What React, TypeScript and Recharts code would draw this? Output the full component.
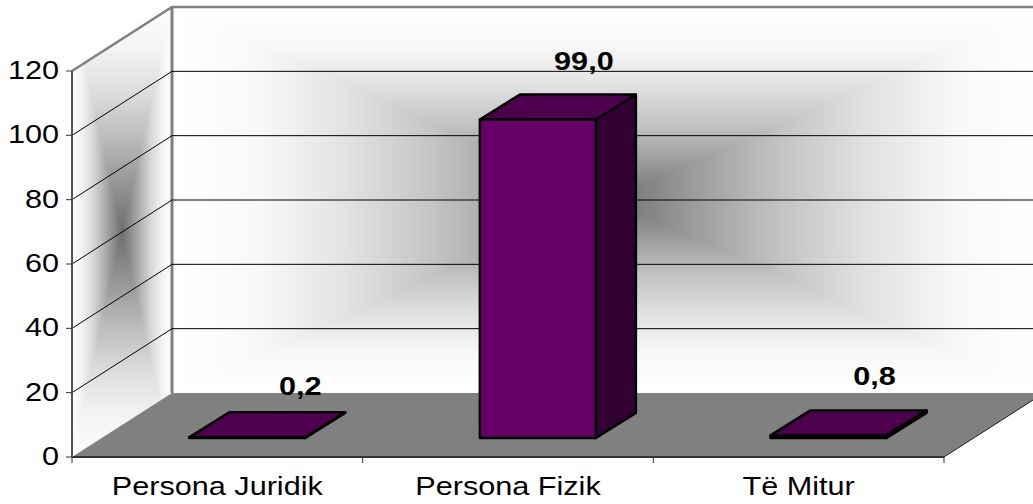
import { BarChart, Bar, XAxis, YAxis, CartesianGrid, LabelList } from 'recharts';

const categories = ['Persona Juridik', 'Persona Fizik', 'Të Mitur'];
const values = [0.2, 99.0, 0.8];
const yTicks = [0, 20, 40, 60, 80, 100, 120];
const gridValues = [20, 40, 60, 80, 100];

const data = categories.map((name, i) => ({ name, value: values[i] }));

const WIDTH = 1033;
const HEIGHT = 504;
const LEFT = 72;
const RIGHT = 944;
const TOP = 71;
const BOTTOM = 457;
// 3D projection: how far the back wall sits from the front plane
const DX = 100;
const DY = 64;
// bars stand part way into the floor
const BAR_DX = 30;
const BAR_DY = 19;
const BAR_DEPTH_X = 40;
const BAR_DEPTH_Y = 25;
const FONT_SIZE = 25;
const STRETCH = 1.225;
const FONT = '"Liberation Sans", Arial, sans-serif';

type Stop = [number, string];

const backStops: Stop[] = [
  [0, '#ffffff'],
  [0.2, '#f8f8f8'],
  [0.4, '#e2e2e2'],
  [0.6, '#c4c4c4'],
  [0.8, '#9c9c9c'],
  [1, '#707070'],
];

const sideStops: Stop[] = [
  [0, '#ffffff'],
  [0.2, '#f2f2f2'],
  [0.4, '#dadada'],
  [0.6, '#b8b8b8'],
  [0.8, '#929292'],
  [1, '#6e6e6e'],
];

// rectangular "path" gradient, built out of four triangles
function BoxGradient({ id, x, y, w, h, stops }: { id: string; x: number; y: number; w: number; h: number; stops: Stop[] }) {
  const cx = x + w / 2;
  const cy = y + h / 2;
  const g = (name: string, x1: number, y1: number, x2: number, y2: number) => (
    <linearGradient id={id + name} gradientUnits="userSpaceOnUse" x1={x1} y1={y1} x2={x2} y2={y2}>
      {stops.map(([o, c]) => <stop key={o} offset={o} stopColor={c} />)}
    </linearGradient>
  );
  return (
    <g>
      <defs>
        {g('t', 0, y, 0, cy)}
        {g('b', 0, y + h, 0, cy)}
        {g('l', x, 0, cx, 0)}
        {g('r', x + w, 0, cx, 0)}
      </defs>
      <polygon points={`${x},${y} ${x + w},${y} ${cx},${cy}`} fill={`url(#${id}t)`} stroke={`url(#${id}t)`} strokeWidth={1} />
      <polygon points={`${x},${y + h} ${x + w},${y + h} ${cx},${cy}`} fill={`url(#${id}b)`} stroke={`url(#${id}b)`} strokeWidth={1} />
      <polygon points={`${x},${y} ${x},${y + h} ${cx},${cy}`} fill={`url(#${id}l)`} stroke={`url(#${id}l)`} strokeWidth={1} />
      <polygon points={`${x + w},${y} ${x + w},${y + h} ${cx},${cy}`} fill={`url(#${id}r)`} stroke={`url(#${id}r)`} strokeWidth={1} />
    </g>
  );
}

// sits behind the transparent chart, so the grid lines stay on top of it
function Walls() {
  const backL = LEFT + DX;
  const backR = RIGHT + DX;
  const backT = TOP - DY;
  const backB = BOTTOM - DY;
  return (
    <svg width={WIDTH} height={HEIGHT} style={{ position: 'absolute', left: 0, top: 0 }}>
      <defs>
        <clipPath id="sideClip">
          <polygon points={`${LEFT},${TOP} ${backL},${backT} ${backL},${backB} ${LEFT},${BOTTOM}`} />
        </clipPath>
      </defs>
      <BoxGradient id="back" x={backL} y={backT} w={backR - backL} h={backB - backT} stops={backStops} />
      {/* the side wall gradient fills its bounding box, it is not skewed with the wall */}
      <g clipPath="url(#sideClip)">
        <BoxGradient id="side" x={LEFT} y={backT} w={DX} h={BOTTOM - backT} stops={sideStops} />
      </g>
      <polygon points={`${LEFT},${BOTTOM} ${backL},${backB} ${backR},${backB} ${RIGHT},${BOTTOM}`} fill="#808080" />
      <line x1={RIGHT} y1={BOTTOM} x2={backR} y2={backB} stroke="#222" strokeWidth={1} />
      <path d={`M${LEFT},${TOP} L${backL},${backT} L${backR},${backT}`} fill="none" stroke="#808080" strokeWidth={2.5} />
      <line x1={backL} y1={backT} x2={backL} y2={backB} stroke="#808080" strokeWidth={3} />
    </svg>
  );
}

function StretchedText({ x, y, anchor, bold, children }: { x: number; y: number; anchor: 'start' | 'middle' | 'end'; bold?: boolean; children: React.ReactNode }) {
  return (
    <text
      transform={`translate(${x},${y}) scale(${STRETCH},1)`}
      textAnchor={anchor}
      fontFamily={FONT}
      fontSize={FONT_SIZE}
      fontWeight={bold ? 700 : 400}
      fill="#000"
    >
      {children}
    </text>
  );
}

function XTick({ x, payload }: any) {
  const band = (RIGHT - LEFT) / categories.length;
  return (
    <g>
      <line x1={x + band / 2} y1={BOTTOM} x2={x + band / 2} y2={BOTTOM + 6} stroke="#333" />
      {payload.index === 0 && <line x1={x - band / 2} y1={BOTTOM} x2={x - band / 2} y2={BOTTOM + 6} stroke="#333" />}
      <StretchedText x={x} y={BOTTOM + 38} anchor="middle">{payload.value}</StretchedText>
    </g>
  );
}

function YTick({ y, payload }: any) {
  return <StretchedText x={59} y={y + 8} anchor="end">{payload.value}</StretchedText>;
}

function GridLine({ x1, y1, x2 }: any) {
  return (
    <path
      d={`M${x1},${y1} L${x1 + DX},${y1 - DY} L${x2 + DX},${y1 - DY}`}
      fill="none"
      stroke="#000"
      strokeWidth={1}
    />
  );
}

function Bar3D({ x, y, width, height }: any) {
  const l = x + BAR_DX;
  const r = l + width;
  const t = y - BAR_DY;
  const b = t + height;
  const dx = BAR_DEPTH_X;
  const dy = BAR_DEPTH_Y;
  return (
    <g stroke="#000" strokeWidth={2.5} strokeLinejoin="round">
      <polygon points={`${r},${t} ${r + dx},${t - dy} ${r + dx},${b - dy} ${r},${b}`} fill="#330033" />
      <polygon points={`${l},${t} ${l + dx},${t - dy} ${r + dx},${t - dy} ${r},${t}`} fill="#4d004d" />
      <rect x={l} y={t} width={width} height={height} fill="#660066" />
    </g>
  );
}

function ValueLabel({ x, y, width, value, index }: any) {
  const text = Number(value).toFixed(1).replace('.', ',');
  // the first label was dragged a little in the original
  const cx = x + BAR_DX + width / 2 + (index === 0 ? 53 : 46);
  const base = y - BAR_DY - (index === 0 ? 42 : 50);
  return <StretchedText x={cx} y={base} anchor="middle" bold>{text}</StretchedText>;
}

export default function App() {
  return (
    <div style={{ position: 'absolute', left: 0, top: 0, width: WIDTH, height: HEIGHT, background: '#fff', overflow: 'hidden' }}>
      <Walls />
      <BarChart
        width={WIDTH}
        height={HEIGHT}
        data={data}
        margin={{ top: TOP, right: WIDTH - RIGHT, bottom: 0, left: 0 }}
        barCategoryGap="30%"
        style={{ position: 'absolute', left: 0, top: 0 }}
      >
        <CartesianGrid vertical={false} horizontalValues={gridValues} horizontal={(p: any) => <GridLine key={p.key ?? p.y1} {...p} />} />
        <XAxis dataKey="name" height={HEIGHT - BOTTOM} axisLine={{ stroke: '#333', strokeWidth: 2 }} tickLine={false} tick={<XTick />} interval={0} />
        <YAxis width={LEFT} domain={[0, 120]} ticks={yTicks} axisLine={{ stroke: '#555', strokeWidth: 2 }} tickLine={{ stroke: '#333' }} tickSize={6} tick={<YTick />} interval={0} />
        <Bar dataKey="value" isAnimationActive={false} shape={<Bar3D />}>
          <LabelList dataKey="value" content={<ValueLabel />} />
        </Bar>
      </BarChart>
    </div>
  );
}
